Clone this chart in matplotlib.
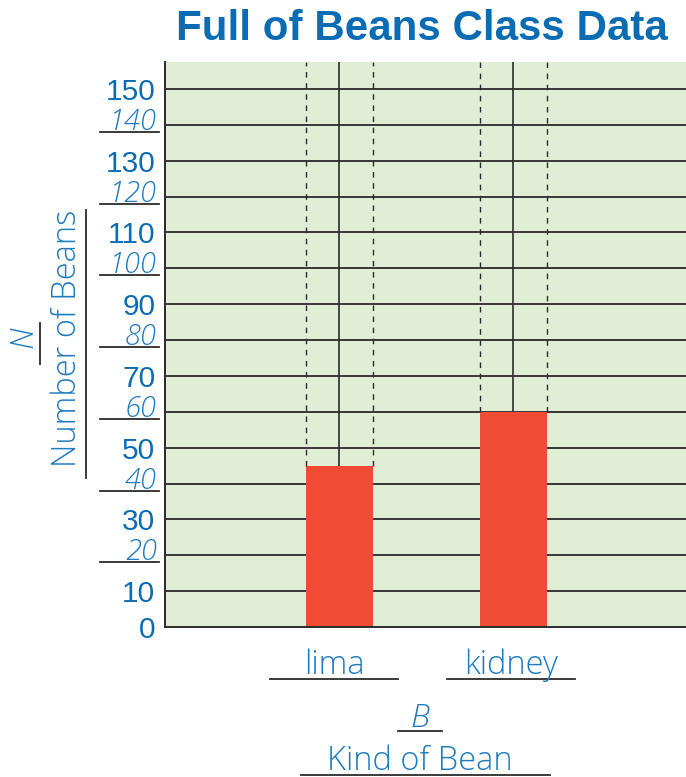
import matplotlib
matplotlib.use("Agg")
import matplotlib.pyplot as plt
from matplotlib.transforms import blended_transform_factory

categories = ["lima", "kidney"]
values = [45, 60]
odd_ticks = [0, 10, 30, 50, 70, 90, 110, 130, 150]
even_ticks = [20, 40, 60, 80, 100, 120, 140]
title = "Full of Beans Class Data"
x_var = "B"
x_label = "Kind of Bean"
y_var = "N"
y_label = "Number of Beans"

W, H = 686, 777
fig = plt.figure(figsize=(W / 100, H / 100), dpi=100)
def fx(p): return p / W
def fy(p): return 1 - p / H

BLUE = "#0A6CB3"
HBLUE = "#1F7BC0"
GREEN = "#E1EED6"
RED = "#F04B35"
DARK = "#2B2B2B"
hand_it = dict(family=["Open Sans", "DejaVu Sans"], style="italic", weight="light", color=HBLUE)
hand = dict(family=["Open Sans", "DejaVu Sans"], style="normal", weight="light", color=HBLUE)

L, R, T, B = 165, 686, 62, 627
ax = fig.add_axes([fx(L), fy(B), fx(R - L), (B - T) / H])
ax.set_facecolor(GREEN)
ymax = 150 * (B - T) / (B - 89)
ax.set_ylim(0, ymax)
ax.set_xlim(-1.0, 1.99)

xs = list(range(len(categories)))
bw = 0.385
ax.set_axisbelow(True)
for v in range(10, 160, 10):
    ax.axhline(v, color=DARK, lw=1.3, zorder=1)
ax.bar(xs, values, width=bw, color=RED, zorder=2)
ax.vlines(xs, values, ymax, color=DARK, lw=1.2, zorder=3)
for x, v in zip(xs, values):
    ax.vlines([x - bw / 2, x + bw / 2], v, ymax, color=DARK, lw=1.0,
              linestyles=(0, (4, 4)), zorder=3)

for s in ["top", "right"]:
    ax.spines[s].set_visible(False)
for s in ["left", "bottom"]:
    ax.spines[s].set_color(DARK)
    ax.spines[s].set_linewidth(1.4)
ax.set_xticks([])
ax.set_yticks(odd_ticks)
ax.set_yticklabels([str(t) for t in odd_ticks], family="Liberation Sans",
                   fontsize=21.5, color=BLUE)
ax.tick_params(axis="y", length=0, pad=7)

tr = blended_transform_factory(ax.transAxes, ax.transData)
px_per_unit = (B - 89) / 150
for t in even_ticks:
    off = 7 / px_per_unit
    ax.plot([(100 - L) / (R - L), (159 - L) / (R - L)], [t - off, t - off],
            transform=tr, color=DARK, lw=1.3, clip_on=False)
    ax.text((157 - L) / (R - L), t - 1.4, str(t), transform=tr, ha="right",
            va="baseline", fontsize=21, **hand_it)

fig.text(fx(422), fy(40), title, ha="center", va="baseline",
         family="Liberation Sans", weight="bold", fontsize=30.3, color=BLUE)

cat_centers = [334, 511]
ul_w = 128
for c, cx in zip(categories, cat_centers):
    fig.text(fx(cx), fy(674), c, ha="center", va="baseline", fontsize=23.5, **hand)
    fig.add_artist(plt.Line2D([fx(cx - ul_w / 2), fx(cx + ul_w / 2)], [fy(679), fy(679)],
                              color=DARK, lw=1.3))
fig.text(fx(420), fy(727), x_var, ha="center", va="baseline", fontsize=23, **hand_it)
fig.add_artist(plt.Line2D([fx(398), fx(442)], [fy(731), fy(731)], color=DARK, lw=1.3))
fig.text(fx(420), fy(770), x_label, ha="center", va="baseline", fontsize=23.5, **hand)
fig.add_artist(plt.Line2D([fx(301), fx(550)], [fy(775), fy(775)], color=DARK, lw=1.3))

fig.text(fx(23.5), fy(337), y_var, ha="center", va="center", rotation=90, fontsize=23, **hand_it)
fig.add_artist(plt.Line2D([fx(40), fx(40)], [fy(323), fy(364)], color=DARK, lw=1.3))
fig.text(fx(67.5), fy(338), y_label, ha="center", va="center", rotation=90, fontsize=23.5, **hand)
fig.add_artist(plt.Line2D([fx(86), fx(86)], [fy(210), fy(478)], color=DARK, lw=1.3))

fig.savefig("out.png", dpi=100)
